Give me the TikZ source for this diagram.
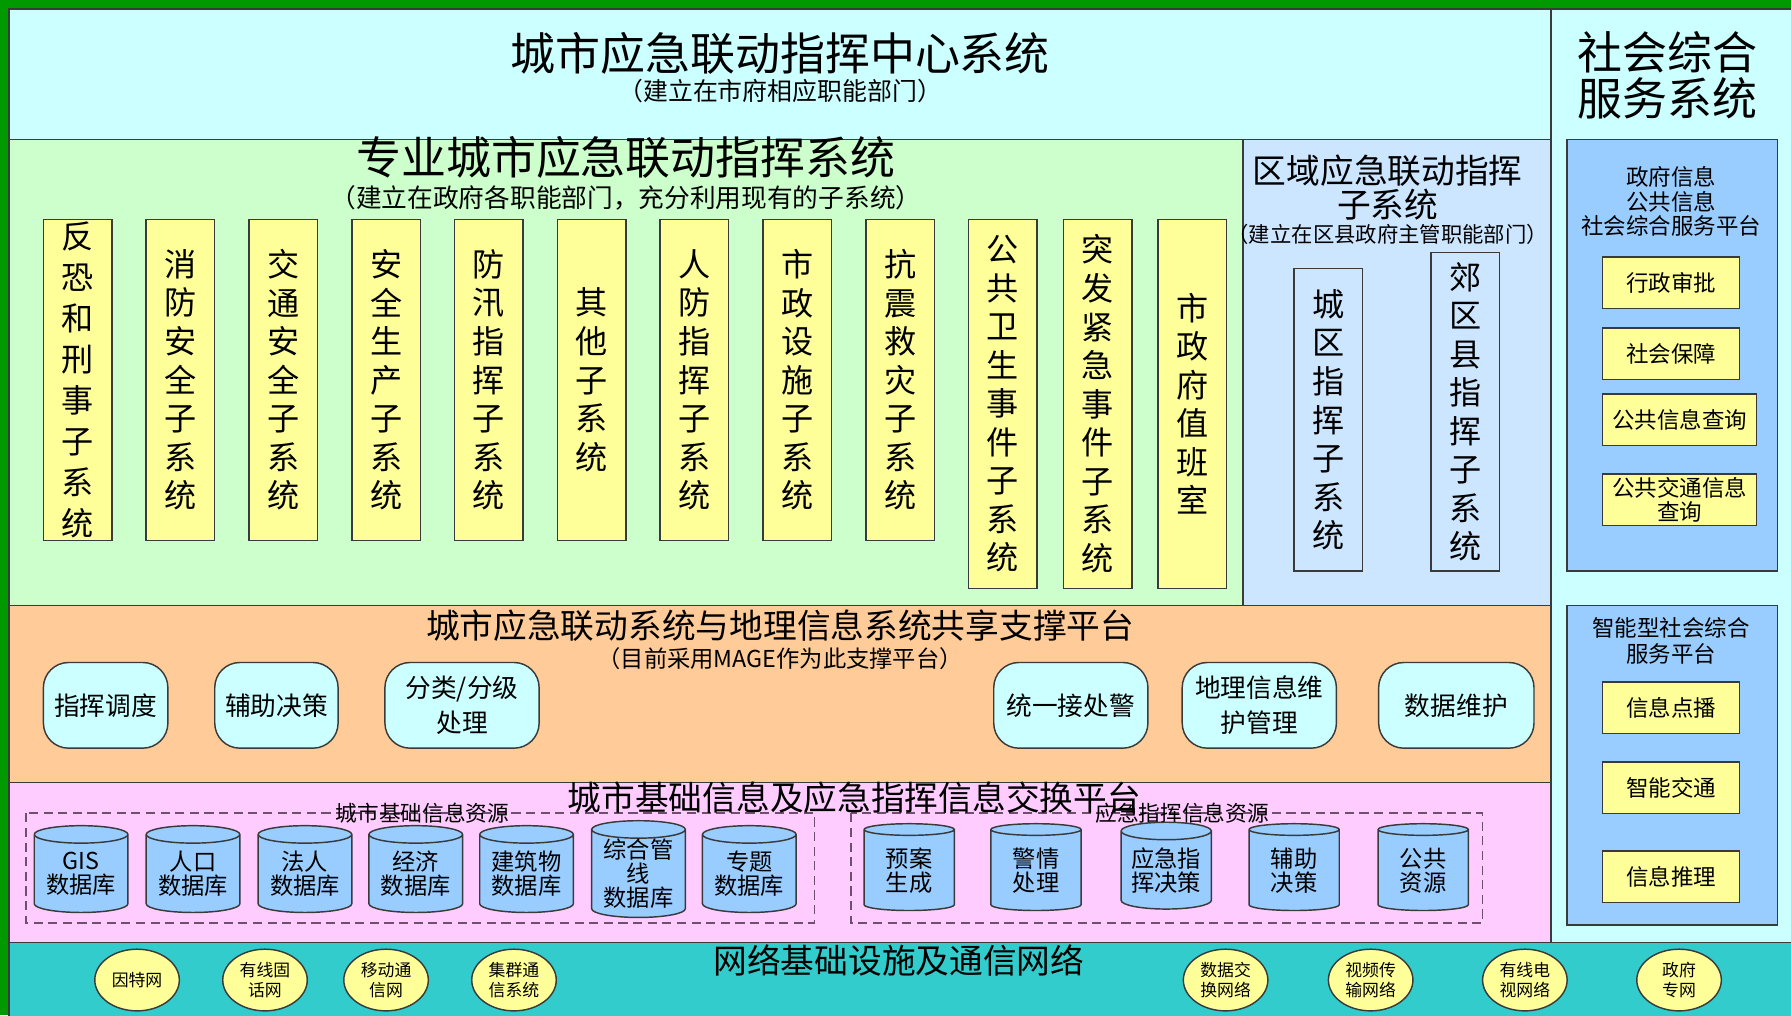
\documentclass[tikz,border=0pt]{standalone}
\usepackage{fontspec}
\setmainfont{Noto Sans CJK SC}
\usetikzlibrary{shapes.geometric}

\definecolor{framegreen}{HTML}{009900}
\definecolor{centercyan}{HTML}{CCFFFF}
\definecolor{progreen}{HTML}{CCFFCC}
\definecolor{areablue}{HTML}{CCE6FF}
\definecolor{panelblue}{HTML}{99CCFF}
\definecolor{boxyellow}{HTML}{FFFF99}
\definecolor{shareorange}{HTML}{FFCC99}
\definecolor{swappink}{HTML}{FFCCFF}
\definecolor{netteal}{HTML}{33CCCC}
\definecolor{edgegray}{HTML}{3A3A3A}
\definecolor{dashpurple}{HTML}{6E4F6E}

\newcommand{\drawlayer}[5]{
    \draw[layer, fill=#5] (#1,#2) rectangle (#3,#4);
}
\newcommand{\fs}[2]{\fontsize{#1}{#2}\selectfont}

\tikzset{
    layer/.style={draw=edgegray, line width=1pt},
    bigtitle/.style={inner sep=0pt, align=center, font=\fs{28}{28.5}},
    midtitle/.style={inner sep=0pt, align=center, font=\fs{21}{21}},
    subtitle/.style={inner sep=0pt, font=\fs{15.5}{17}},
    subbox/.style={draw=edgegray, line width=0.9pt, fill=boxyellow, minimum width=15mm,
        minimum height=70.25mm, inner sep=0pt, align=center, font=\fs{20}{24}},
    tallbox/.style={subbox, minimum height=80.75mm},
    areabox/.style={subbox, fill=areablue},
    panelbox/.style={draw=edgegray, line width=0.9pt, fill=boxyellow, minimum width=30mm,
        minimum height=11.25mm, inner sep=1pt, align=center, font=\fs{14}{15}},
    roundbox/.style={draw=edgegray, line width=0.9pt, fill=centercyan, rounded corners=5.5mm,
        minimum height=18.75mm, inner sep=2pt, align=center, font=\fs{16}{22}},
    resbox/.style={draw=dashpurple, line width=1pt, dash pattern=on 2mm off 1.2mm},
    db/.style={cylinder, shape border rotate=90, aspect=0.25, draw=edgegray, line width=0.9pt,
        fill=panelblue, minimum width=20.5mm, minimum height=19mm, inner sep=0pt,
        align=center, font=\fs{14.5}{15}},
    netball/.style={ellipse, draw=edgegray, line width=0.9pt, fill=boxyellow,
        minimum width=18.5mm, minimum height=13.5mm, inner sep=0pt, align=center,
        font=\fs{10.5}{12}}
}

\begin{document}
\begin{tikzpicture}[x=0.25mm, y=-0.25mm]
    \useasboundingbox (0,0) rectangle (1568,889);
    \clip (0,0) rectangle (1568,889);
    % Background and layers
    \fill[framegreen] (0,0) rectangle (1568,889);
    \drawlayer{8}{8}{1358}{122}{centercyan}
    \drawlayer{1358}{8}{1580}{825}{centercyan}
    \drawlayer{8}{122}{1088}{530}{progreen}
    \drawlayer{1088}{122}{1358}{530}{areablue}
    \drawlayer{8}{530}{1358}{685}{shareorange}
    \drawlayer{8}{685}{1358}{825}{swappink}
    \drawlayer{8}{825}{1580}{900}{netteal}
    \drawlayer{1372}{122}{1556}{500}{panelblue}
    \drawlayer{1372}{530}{1556}{810}{panelblue}

    % Command center
    \node[bigtitle] (center) at (683,47) {城市应急联动指挥中心系统};
    \node[subtitle] (centersub) at (683,80) {（建立在市府相应职能部门）};
    \node[bigtitle] (social) at (1460,66) {社会综合\\服务系统};

    % Professional subsystems
    \node[bigtitle] (pro) at (548,138) {专业城市应急联动指挥系统};
    \node[subtitle, font=\fs{16}{17}] (prosub) at (548,173) {（建立在政府各职能部门，充分利用现有的子系统）};
    \node[subbox, font=\fs{20}{25.5}] (sub1) at (68,332.5) {反\\恐\\和\\刑\\事\\子\\系\\统};
    \foreach \x/\t [count=\i from 2] in {158/{消\\防\\安\\全\\子\\系\\统}, 248/{交\\通\\安\\全\\子\\系\\统},
        338/{安\\全\\生\\产\\子\\系\\统}, 428/{防\\汛\\指\\挥\\子\\系\\统}, 518/{其\\他\\子\\系\\统},
        608/{人\\防\\指\\挥\\子\\系\\统}, 698/{市\\政\\设\\施\\子\\系\\统}, 788/{抗\\震\\救\\灾\\子\\系\\统}}{
        \node[subbox] (sub\i) at (\x,332.5) {\t};
    }
    \node[tallbox] (sub10) at (878,353.5) {公\\共\\卫\\生\\事\\件\\子\\系\\统};
    \node[tallbox] (sub11) at (961,353.5) {突\\发\\紧\\急\\事\\件\\子\\系\\统};
    \node[tallbox] (sub12) at (1044,353.5) {市\\政\\府\\值\\班\\室};

    % District subsystems
    \node[midtitle] (area) at (1215,164) {区域应急联动指挥\\子系统};
    \node[subtitle, font=\fs{13.3}{15}] (areasub) at (1215,205) {（建立在区县政府主管职能部门）};
    \node[areabox, minimum height=66.25mm] (city) at (1163,367.5) {城\\区\\指\\挥\\子\\系\\统};
    \node[areabox, minimum height=69.75mm] (suburb) at (1283,360.5) {郊\\区\\县\\指\\挥\\子\\系\\统};

    % Social service panels
    \node[inner sep=0pt, align=center, font=\fs{14}{15.3}] (gov) at (1463,176.5) {政府信息\\公共信息\\社会综合服务平台};
    \node[panelbox] (approve) at (1463,247.5) {行政审批};
    \node[panelbox] (security) at (1463,309.5) {社会保障};
    \node[panelbox, minimum width=33.75mm] (query) at (1470.5,367.5) {公共信息查询};
    \node[panelbox, minimum width=33.75mm] (traffic) at (1470.5,437.5) {公共交通信息\\查询};
    \node[inner sep=0pt, align=center, font=\fs{14}{16.3}] (smart) at (1463,561) {智能型社会综合\\服务平台};
    \node[panelbox] (demand) at (1463,619.5) {信息点播};
    \node[panelbox] (smarttraffic) at (1463,689.5) {智能交通};
    \node[panelbox] (reason) at (1463,767.5) {信息推理};

    % Shared platform
    \node[midtitle] (share) at (683,548) {城市应急联动系统与地理信息系统共享支撑平台};
    \node[subtitle, font=\fs{14.5}{16}] (sharesub) at (683,577) {（目前采用MAGE作为此支撑平台）};
    \node[roundbox, minimum width=27.25mm] (dispatch) at (92.5,617.5) {指挥调度};
    \node[roundbox, minimum width=27mm] (assist) at (242,617.5) {辅助决策};
    \node[roundbox, minimum width=33.75mm] (grade) at (404.5,617.5) {分类/分级\\处理};
    \node[roundbox, minimum width=33.75mm] (alarm) at (937.5,617.5) {统一接处警};
    \node[roundbox, minimum width=33.75mm] (geo) at (1102.5,617.5) {地理信息维\\护管理};
    \node[roundbox, minimum width=34mm] (upkeep) at (1275,617.5) {数据维护};

    % Exchange platform
    \draw[resbox] (23,712) rectangle (713,808);
    \draw[resbox] (745,712) rectangle (1298,808);
    \node[inner sep=0pt, font=\fs{13.5}{14}] (basiclbl) at (370,712) {城市基础信息资源};
    \node[inner sep=0pt, font=\fs{13.5}{14}] (emerglbl) at (1035,712) {应急指挥信息资源};
    \node[midtitle] (swap) at (748,698) {城市基础信息及应急指挥信息交换平台};
    \foreach \x/\t [count=\i] in {71/{GIS\\数据库}, 169/{人口\\数据库}, 267/{法人\\数据库},
        364/{经济\\数据库}, 461/{建筑物\\数据库}, 559/{综合管\\线\\数据库}, 656/{专题\\数据库}}{
        \node[db] (base\i) at (\x,765) {\t};
    }
    \foreach \x/\t [count=\i] in {796/{预案\\生成}, 907/{警情\\处理}, 1021/{应急指\\挥决策},
        1133/{辅助\\决策}, 1246/{公共\\资源}}{
        \node[db, minimum width=19.75mm] (emerg\i) at (\x,762) {\t};
    }

    % Network layer
    \node[midtitle] (net) at (787,841) {网络基础设施及通信网络};
    \foreach \x/\t [count=\i] in {120/因特网, 232/{有线固\\话网}, 338/{移动通\\信网}, 450/{集群通\\信系统},
        1073/{数据交\\换网络}, 1200/{视频传\\输网络}, 1335/{有线电\\视网络}, 1470/{政府\\专网}}{
        \node[netball] (link\i) at (\x,858) {\t};
    }
\end{tikzpicture}
\end{document}
